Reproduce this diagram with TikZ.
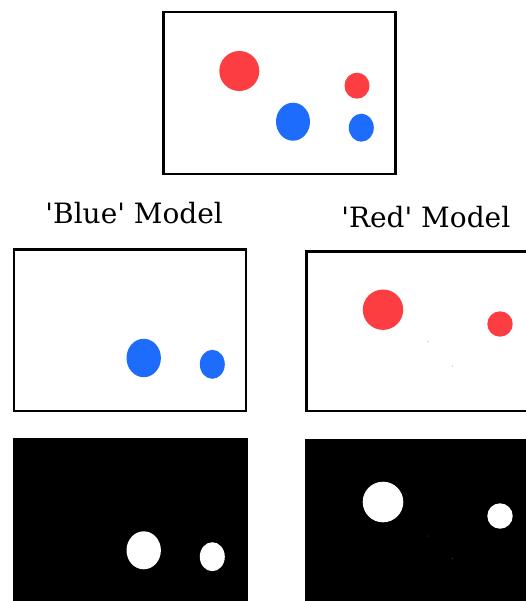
\documentclass[tikz,border=0pt]{standalone}
\usepackage{fontspec}
\newfontfamily\lblfont{DejaVu Serif}
\definecolor{mred}{RGB}{252,62,66}
\definecolor{mblue}{RGB}{30,108,252}
\definecolor{dotc}{RGB}{120,140,200}
\tikzset{
  frame/.style={draw=black,line width=2.6pt,fill=white},
  mask/.style={fill=black},
  lbl/.style={font=\lblfont\fontsize{28}{34}\selectfont,anchor=base,inner sep=0pt},
  speck/.style={fill=dotc}
}
\begin{document}
\begin{tikzpicture}[x=1pt,y=-1pt]
\useasboundingbox (0,0) rectangle (526,601);
\clip (0,0) rectangle (526,601);
% top scene
\draw[frame] (163.7,12) rectangle (395.3,174);
\fill[mred] (239.3,71) circle [radius=20];
\fill[mred] (357,85.7) ellipse [x radius=12.5,y radius=13];
\fill[mblue] (293,121.7) ellipse [x radius=17,y radius=19];
\fill[mblue] (361.3,127.7) ellipse [x radius=12.5,y radius=14];
% labels
\node[lbl] (bluelbl) at (134.2,223.3) {\textquotesingle Blue\textquotesingle{} Model};
\node[lbl] (redlbl) at (425.8,228) {\textquotesingle Red\textquotesingle{} Model};
% blue model
\draw[frame,line width=2.2pt] (14,249.4) rectangle (246,410.6);
\fill[mblue] (143.7,358) ellipse [x radius=17.2,y radius=19.2];
\fill[mblue] (212.3,364.3) ellipse [x radius=12.5,y radius=14.5];
\fill[mask] (12.7,437.7) rectangle (247.7,610);
\fill[white] (143.7,550.3) ellipse [x radius=17.2,y radius=19];
\fill[white] (212.3,556.7) ellipse [x radius=12.5,y radius=14.5];
% red model
\draw[frame] (306.6,251.3) rectangle (545,411);
\fill[mred] (383,309.7) circle [radius=20.2];
\fill[mred] (500,324) circle [radius=12.7];
\fill[speck] (428,341.7) circle [radius=0.5];
\fill[speck] (452.3,366) circle [radius=0.5];
\fill[mask] (304.7,439.3) rectangle (545,610);
\fill[white] (383,502) circle [radius=20.3];
\fill[white] (500,516) circle [radius=12.7];
\fill[dotc!60!black] (428,536) circle [radius=0.5];
\fill[dotc!60!black] (452.3,558.3) circle [radius=0.5];
\end{tikzpicture}
\end{document}
